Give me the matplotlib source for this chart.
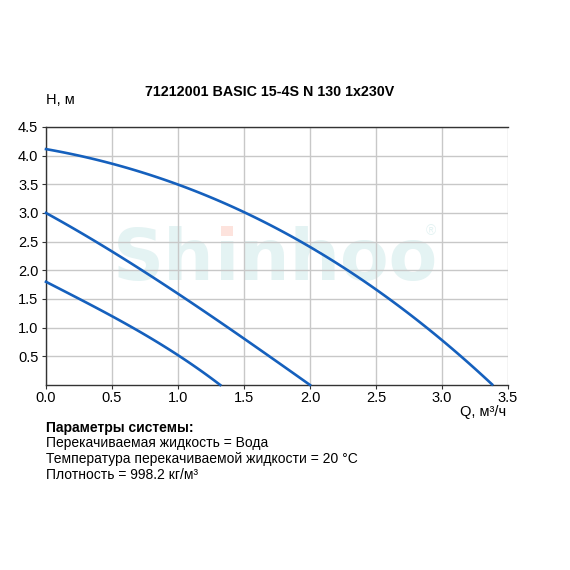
import matplotlib
matplotlib.use("Agg")
import matplotlib.pyplot as plt
import numpy as np
from matplotlib.textpath import TextPath
from matplotlib.font_manager import FontProperties
from matplotlib.patches import Rectangle

title = "71212001 BASIC 15-4S N 130 1x230V"
q1 = [0.0, 0.5, 1.0, 1.5, 2.0, 2.5, 3.0, 3.38]
h1 = [4.11, 3.87, 3.49, 3.02, 2.40, 1.66, 0.80, 0.0]
q2 = [0.0, 0.5, 1.0, 1.5, 2.0]
h2 = [3.0, 2.33, 1.59, 0.81, 0.0]
q3 = [0.0, 0.5, 1.0, 1.32]
h3 = [1.8, 1.20, 0.52, 0.0]
xticks = [0.0, 0.5, 1.0, 1.5, 2.0, 2.5, 3.0, 3.5]
yticks = [0.5, 1.0, 1.5, 2.0, 2.5, 3.0, 3.5, 4.0, 4.5]
info_head = "Параметры системы:"
info_lines = ["Перекачиваемая жидкость = Вода",
              "Температура перекачиваемой жидкости = 20 °C",
              "Плотность = 998.2 кг/м³"]

FONT = "Liberation Sans"
W = 570
fig = plt.figure(figsize=(5.7, 5.7), dpi=100)
ax = fig.add_axes([46/W, 1-385/W, (508-46)/W, (385-127)/W])

ax.set_xlim(0, 3.5)
ax.set_ylim(0, 4.5)
ax.set_xticks(xticks)
ax.set_yticks(yticks)
ax.set_xticklabels([f"{v:.1f}" for v in xticks], fontsize=10.5, family=FONT)
ax.set_yticklabels([f"{v:.1f}" for v in yticks], fontsize=10.5, family=FONT)
ax.grid(True, color="#c8c8c8", lw=1.0, zorder=0.5)
ax.set_axisbelow(True)
ax.spines["right"].set_visible(False)
for s in ["left", "bottom", "top"]:
    ax.spines[s].set_color("#333333")
    ax.spines[s].set_linewidth(1.0)
ax.tick_params(axis="x", length=3, color="#333333", pad=1.5)
ax.tick_params(axis="y", length=3, color="#333333", pad=2.5)

# watermark "Shinhoo": pieces placed side by side, pink square dot on the i
WM_SIZE = 51
WM_COLOR = "#e4f3f3"
wm_prop = dict(fontsize=WM_SIZE, fontweight="bold", family="DejaVu Sans")
fig.canvas.draw()
renderer = fig.canvas.get_renderer()
def width_px(s):
    t = fig.text(0, 0, s, **wm_prop)
    w = t.get_window_extent(renderer).width
    t.remove()
    return w
x0_px, base_px = 113, W - 280
w_sh = width_px("Sh")
w_shi = width_px("Shı")
kw = dict(va="baseline", ha="left", zorder=0.3, transform=fig.transFigure,
          color=WM_COLOR, **wm_prop)
ax.text(x0_px/W, base_px/W, "Sh", **kw)
ax.text((x0_px + w_sh)/W, base_px/W, "ı", **kw)
ax.text((x0_px + w_shi)/W, base_px/W, "nhoo", **kw)
# dot geometry of the bold "i" glyph
tp = TextPath((0, 0), "i", size=WM_SIZE,
              prop=FontProperties(family="DejaVu Sans", weight="bold"))
v = tp.vertices
dot = v[v[:, 1] > 0.57 * WM_SIZE]
k = 100 / 72
dx0, dx1 = dot[:, 0].min() * k, dot[:, 0].max() * k
dy0, dy1 = dot[:, 1].min() * k, dot[:, 1].max() * k
ax.add_patch(Rectangle(((x0_px + w_sh + dx0)/W, (base_px + dy0)/W),
                       (dx1 - dx0)/W, (dy1 - dy0)/W, transform=fig.transFigure,
                       facecolor="#fde3dd", edgecolor="none", zorder=0.35))
ax.text(431/W, 1-231/W, "®", ha="center", va="center", fontsize=10,
        color=WM_COLOR, family=FONT, zorder=0.3, transform=fig.transFigure)

for q, h in [(q1, h1), (q2, h2), (q3, h3)]:
    qq = np.array(q); hh = np.array(h)
    c = np.polyfit(qq, hh, min(3, len(qq)-1))
    xs = np.linspace(qq[0], qq[-1], 100)
    ax.plot(xs, np.polyval(c, xs), color="#1560bd", lw=1.9, zorder=3, clip_on=False)

fig.text(270/W, 1-92/W, title, ha="center", va="center", fontsize=10.3,
         fontweight="bold", family=FONT)
fig.text(46/W, 1-100/W, "Н, м", ha="left", va="center", fontsize=10.5, family=FONT)
fig.text(506/W, 1-412/W, "Q, м³/ч", ha="right", va="center", fontsize=10.5, family=FONT)
fig.text(46/W, 1-428/W, info_head, ha="left", va="center", fontsize=10,
         fontweight="bold", family=FONT)
for i, line in enumerate(info_lines):
    fig.text(46/W, 1-(443+16*i)/W, line, ha="left", va="center", fontsize=10,
             family=FONT)

fig.savefig("out.png", dpi=100)
